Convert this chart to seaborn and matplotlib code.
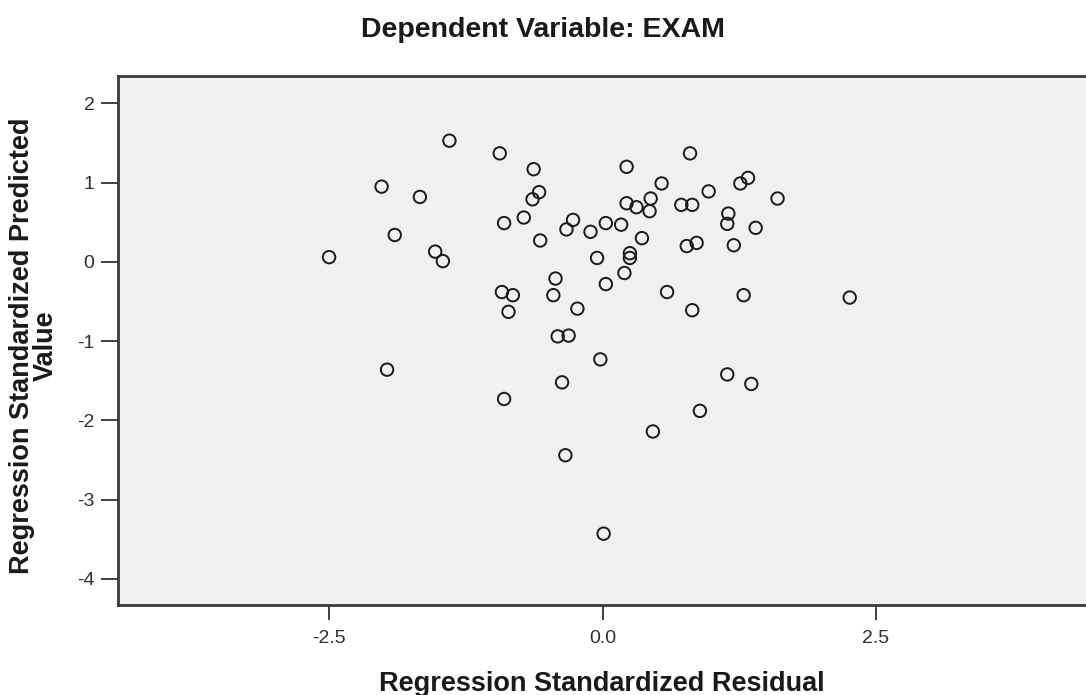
import matplotlib
matplotlib.use("Agg")
import matplotlib.pyplot as plt
import seaborn as sns
import pandas as pd

# Regression diagnostics: standardized residual vs standardized predicted value
std_residual = [-2.50, -2.02, -1.90, -1.67, -1.40, -1.53, -1.46, -0.94, -0.90, -0.63,
                -0.58, -0.64, -0.72, -0.57, -0.33, -0.27, -0.11, 0.03, 0.17, 0.22,
                0.22, 0.31, 0.44, 0.43, 0.54, 0.36, 0.25, 0.25, -0.05, 0.20,
                0.03, 0.80, 0.97, 0.72, 0.82, 1.26, 1.33, 1.15, 1.14, 1.40,
                1.60, 0.77, 0.86, 1.20, 0.59, 0.82, 1.29, -0.43, -0.45, -0.92,
                -0.82, -0.86, -0.23, -0.41, -0.31, -0.02, -1.97, -0.37, -0.90, 1.14,
                1.36, 0.89, 0.46, -0.34, 0.01, 2.26]
std_predicted = [0.06, 0.95, 0.34, 0.82, 1.53, 0.13, 0.01, 1.37, 0.49, 1.17,
                 0.88, 0.79, 0.56, 0.27, 0.41, 0.53, 0.38, 0.49, 0.47, 1.20,
                 0.74, 0.69, 0.80, 0.64, 0.99, 0.30, 0.11, 0.05, 0.05, -0.14,
                 -0.28, 1.37, 0.89, 0.72, 0.72, 0.99, 1.06, 0.61, 0.48, 0.43,
                 0.80, 0.20, 0.24, 0.21, -0.38, -0.61, -0.42, -0.21, -0.42, -0.38,
                 -0.42, -0.63, -0.59, -0.94, -0.93, -1.23, -1.36, -1.52, -1.73, -1.42,
                 -1.54, -1.88, -2.14, -2.44, -3.43, -0.45]

x_ticks = [-2.5, 0.0, 2.5]
x_tick_labels = ["-2.5", "0.0", "2.5"]
y_ticks = [2, 1, 0, -1, -2, -3, -4]
y_tick_labels = ["2", "1", "0", "-1", "-2", "-3", "-4"]

df = pd.DataFrame({"resid": std_residual, "pred": std_predicted})

sns.set_style("white")
plt.rcParams["font.family"] = ["Liberation Sans", "DejaVu Sans"]

fig = plt.figure(figsize=(10.86, 6.95), dpi=100)
ax = fig.add_axes([118 / 1086, 1 - 605 / 695, 1 - 118 / 1086, (605 - 75.7) / 695])
ax.set_facecolor("#f0f0f0")

sns.scatterplot(data=df, x="resid", y="pred", ax=ax, s=80,
                facecolors="none", edgecolor="#1a1a1a", linewidth=1.4,
                marker="o", legend=False)

ax.set_xlim(-4.43, 4.42)
ax.set_ylim(-4.33, 2.35)

ax.set_xticks(x_ticks)
ax.set_xticklabels(x_tick_labels)
ax.set_yticks(y_ticks)
ax.set_yticklabels(y_tick_labels)
ax.tick_params(axis="both", direction="out", width=1.3,
               color="#303030", labelsize=14, labelcolor="#303030")
ax.tick_params(axis="x", bottom=True, length=11, pad=7)
ax.tick_params(axis="y", left=True, length=12, pad=5)

for side in ["left", "bottom", "top"]:
    ax.spines[side].set_visible(True)
    ax.spines[side].set_color("#3a3a3a")
    ax.spines[side].set_linewidth(2.0)
ax.spines["right"].set_visible(False)

ax.set_xlabel("Regression Standardized Residual", fontsize=19.5,
              fontweight="bold", color="#1a1a1a", va="baseline")
ax.xaxis.set_label_coords(0.5, (605 - 691) / 529.3)
ax.set_ylabel("Regression Standardized Predicted\nValue", fontsize=19.5,
              fontweight="bold", color="#1a1a1a", va="center", ha="center",
              linespacing=0.92)
ax.yaxis.set_label_coords((34 - 118) / 968, 0.49)

fig.text(0.5, 1 - 37 / 695, "Dependent Variable: EXAM", ha="center",
         va="baseline", fontsize=20.5, fontweight="bold", color="#1a1a1a")

fig.savefig("out.png", dpi=100, facecolor="white")
